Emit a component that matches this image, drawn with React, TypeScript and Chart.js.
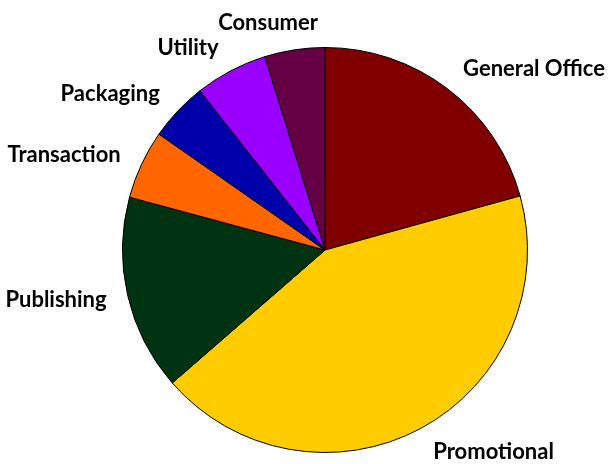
import { useEffect, useRef } from "react";
import { Chart, registerables, Plugin } from "chart.js";

Chart.register(...registerables);

const categories = [
  "General Office",
  "Promotional",
  "Publishing",
  "Transaction",
  "Packaging",
  "Utility",
  "Consumer",
];
const shares = [20.7, 42.9, 15.6, 5.5, 4.7, 5.8, 4.8];
const sliceColors = [
  "#800000",
  "#FFCC00",
  "#003311",
  "#FF6600",
  "#0000AA",
  "#9900FF",
  "#660044",
];

// draws the category names outside the pie, next to each slice
const outsideLabels: Plugin<"pie"> = {
  id: "outsideLabels",
  afterDatasetsDraw(chart) {
    const { ctx } = chart;
    const meta = chart.getDatasetMeta(0);
    ctx.save();
    ctx.font = "bold 22px Lato";
    ctx.fillStyle = "#000";
    ctx.textBaseline = "middle";
    ctx.textAlign = "left";
    meta.data.forEach((el: any, i: number) => {
      const mid = (el.startAngle + el.endAngle) / 2;
      const c = Math.cos(mid);
      const s = Math.sin(mid);
      const r = el.outerRadius + 20 + 7 * Math.abs(s);
      const x = el.x + c * r;
      const y = el.y + s * r;
      const w = ctx.measureText(categories[i]).width;
      // labels near the top/bottom shift toward centred alignment
      const f = c >= 0 ? 0 : Math.min(1, 0.5 + 1.5 * Math.abs(c));
      ctx.fillText(categories[i], x - f * w, y);
    });
    ctx.restore();
  },
};

export default function App() {
  const canvasRef = useRef<HTMLCanvasElement>(null);

  useEffect(() => {
    document.body.style.margin = "0";
    if (!canvasRef.current) return;
    const chart = new Chart(canvasRef.current, {
      type: "pie",
      data: {
        labels: categories,
        datasets: [
          {
            data: shares,
            backgroundColor: sliceColors,
            borderColor: "#000",
            borderWidth: 1,
          },
        ],
      },
      options: {
        responsive: true,
        maintainAspectRatio: false,
        animation: false,
        layout: { padding: { left: 122, right: 80, top: 47, bottom: 11 } },
        plugins: {
          legend: { display: false },
          tooltip: { enabled: false },
        },
      },
      plugins: [outsideLabels],
    });
    return () => chart.destroy();
  }, []);

  return (
    <div style={{ width: 608, height: 464, position: "relative" }}>
      <canvas ref={canvasRef} />
    </div>
  );
}
